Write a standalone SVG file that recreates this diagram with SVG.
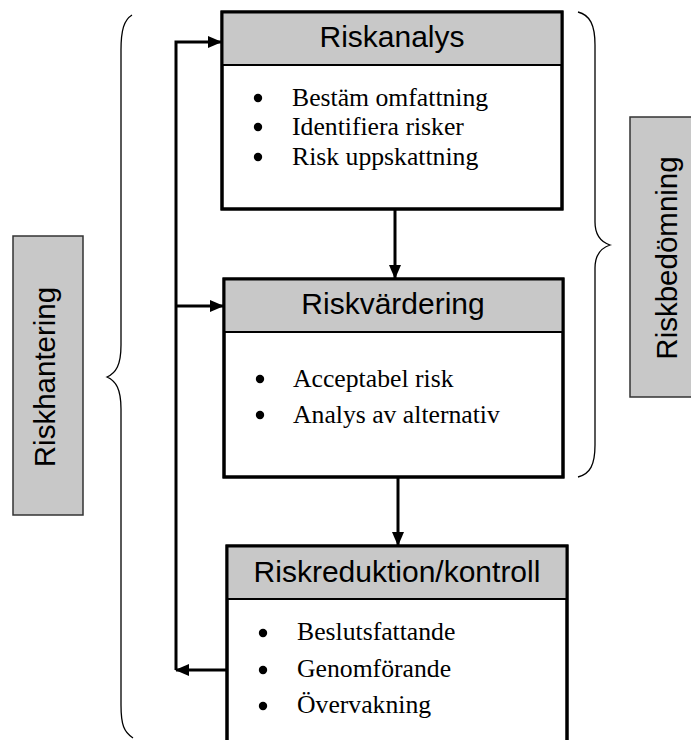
<svg xmlns="http://www.w3.org/2000/svg" width="691" height="740" viewBox="0 0 691 740">
<style>
.box{fill:#fff;stroke:#000;stroke-width:3}
.hdr{fill:#c8c8c8;stroke:#000;stroke-width:2}
.ht{font-family:"Liberation Sans",Arial,sans-serif;font-size:30px;fill:#000;text-anchor:middle}
.it{font-family:"Liberation Serif","Times New Roman",serif;font-size:25.7px;fill:#000}
.lbl{fill:#c8c8c8;stroke:#333;stroke-width:1.5}
.lt{font-family:"Liberation Sans",Arial,sans-serif;font-size:29.5px;fill:#000;text-anchor:middle}
.con{fill:none;stroke:#000;stroke-width:3}
.brace{fill:none;stroke:#000;stroke-width:1.3}
</style>
<defs>
<marker id="ah" markerUnits="userSpaceOnUse" markerWidth="14" markerHeight="12" refX="13" refY="6" orient="auto">
<path d="M0,0 L14,6 L0,12 Z" fill="#000"/>
</marker>
</defs>

<g id="brace-left">
<path class="brace" d="M132,15 C124,20 121,30 121,50 L121,345 C121,365 116,373 107,377 C116,381 121,389 121,409 L121,705 C121,725 124,732 133,738"/>
</g>
<g id="brace-right">
<path class="brace" d="M578,12 C590,15 595,25 595,45 L595,222 C595,236 601,242 610,245 C601,248 595,254 595,268 L595,445 C595,465 590,474 578,477"/>
</g>

<g id="riskhantering">
<rect class="lbl" x="13" y="236" width="70" height="279"/>
<text class="lt" transform="translate(55,377) rotate(-90)">Riskhantering</text>
</g>
<g id="riskbedomning">
<rect class="lbl" x="630" y="117" width="76" height="280"/>
<text class="lt" transform="translate(677,258) rotate(-90)">Riskbedömning</text>
</g>

<g id="riskanalys">
<rect class="box" x="222" y="12" width="340" height="197"/>
<rect class="hdr" x="222" y="12" width="340" height="53"/>
<rect x="222" y="12" width="340" height="197" fill="none" stroke="#000" stroke-width="3"/>
<text class="ht" x="392" y="47">Riskanalys</text>
<circle cx="258" cy="98" r="4.2"/>
<circle cx="258" cy="127" r="4.2"/>
<circle cx="258" cy="157" r="4.2"/>
<text class="it" x="292" y="106">Bestäm omfattning</text>
<text class="it" x="292" y="135">Identifiera risker</text>
<text class="it" x="292" y="165">Risk uppskattning</text>
</g>

<g id="riskvardering">
<rect class="box" x="224" y="279" width="339" height="198"/>
<rect class="hdr" x="224" y="279" width="339" height="53"/>
<rect x="224" y="279" width="339" height="198" fill="none" stroke="#000" stroke-width="3"/>
<text class="ht" x="393" y="314">Riskvärdering</text>
<circle cx="260" cy="379" r="4.2"/>
<circle cx="260" cy="415" r="4.2"/>
<text class="it" x="293" y="387">Acceptabel risk</text>
<text class="it" x="293" y="423">Analys av alternativ</text>
</g>

<g id="riskreduktion">
<rect class="box" x="227" y="546" width="340" height="200"/>
<rect class="hdr" x="227" y="546" width="340" height="53"/>
<rect x="227" y="546" width="340" height="200" fill="none" stroke="#000" stroke-width="3"/>
<text class="ht" x="397" y="582">Riskreduktion/kontroll</text>
<circle cx="263" cy="633" r="4.2"/>
<circle cx="263" cy="670" r="4.2"/>
<circle cx="263" cy="706" r="4.2"/>
<text class="it" x="297" y="640">Beslutsfattande</text>
<text class="it" x="297" y="677">Genomförande</text>
<text class="it" x="297" y="713">Övervakning</text>
</g>

<g id="connectors">
<path class="con" d="M227,670 L176,670" marker-end="url(#ah)"/>
<path class="con" d="M176,670 L176,42 L221,42" marker-end="url(#ah)"/>
<path class="con" d="M176,306 L223,306" marker-end="url(#ah)"/>
<path class="con" d="M395,209 L395,278" marker-end="url(#ah)"/>
<path class="con" d="M398,478 L398,545" marker-end="url(#ah)"/>
</g>
</svg>
